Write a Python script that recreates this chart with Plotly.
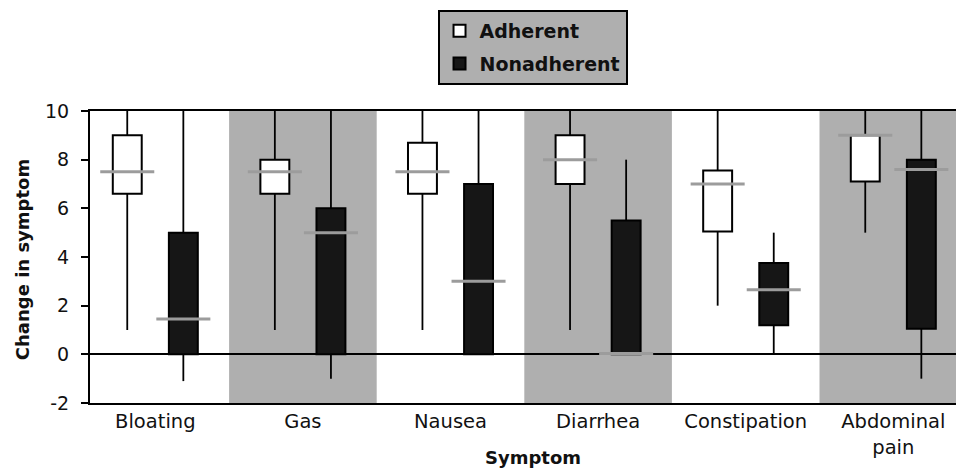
import plotly.graph_objects as go
import numpy as np

categories = ["Bloating", "Gas", "Nausea", "Diarrhea", "Constipation", "Abdominal<br>pain"]
shaded = [False, True, False, True, False, True]

adh_low = [1.0, 1.0, 1.0, 1.0, 2.0, 5.0]
adh_q1 = [6.6, 6.6, 6.6, 7.0, 5.05, 7.1]
adh_med = [7.5, 7.5, 7.5, 8.0, 7.0, 9.0]
adh_q3 = [9.0, 8.0, 8.7, 9.0, 7.55, 9.0]
adh_high = [10.0, 10.0, 10.0, 10.0, 10.0, 10.0]

non_low = [-1.1, -1.0, 0.0, 0.0, 0.0, -1.0]
non_q1 = [0.0, 0.0, 0.0, 0.0, 1.2, 1.05]
non_med = [1.45, 5.0, 3.0, 0.03, 2.65, 7.6]
non_q3 = [5.0, 6.0, 7.0, 5.5, 3.75, 8.0]
non_high = [10.0, 10.0, 10.0, 8.0, 5.0, 10.0]

y_ticks = [-2, 0, 2, 4, 6, 8, 10]
y_ticktext = ["-2", "0", "2", "4", "6", "8", "10"]

idx = np.arange(len(categories))
OFF = 0.19
BOXW = 0.196
MEDW = 0.183
GRAY = "#afafaf"
FONT = "DejaVu Sans"

fig = go.Figure()

def segs(xs, y0s, y1s):
    X, Y = [], []
    for x, a, b in zip(xs, y0s, y1s):
        X += [x, x, None]
        Y += [a, b, None]
    return X, Y

def hsegs(xs, ys, half):
    X, Y = [], []
    for x, y in zip(xs, ys):
        X += [x - half, x + half, None]
        Y += [y, y, None]
    return X, Y

xa = idx - OFF
xn = idx + OFF
xs_all = list(xa) + list(xn)

# whiskers (lower: low -> q1, upper: q3 -> high)
lx, ly = segs(xs_all, adh_low + non_low, adh_q1 + non_q1)
ux, uy = segs(xs_all, adh_q3 + non_q3, adh_high + non_high)
fig.add_trace(go.Scatter(x=lx + ux, y=ly + uy, mode="lines",
                         line=dict(color="black", width=1.8),
                         showlegend=False, hoverinfo="skip"))

# boxes
fig.add_trace(go.Bar(name="<b>Adherent</b>", legendgroup="a", x=xa, base=adh_q1,
                     y=[b - a for a, b in zip(adh_q1, adh_q3)], width=BOXW,
                     marker=dict(color="white", line=dict(color="black", width=2))))
fig.add_trace(go.Bar(name="<b>Nonadherent</b>", legendgroup="n", x=xn, base=non_q1,
                     y=[b - a for a, b in zip(non_q1, non_q3)], width=BOXW,
                     marker=dict(color="#161616", line=dict(color="black", width=2))))

# medians
mx, my = hsegs(xs_all, adh_med + non_med, MEDW)
fig.add_trace(go.Scatter(x=mx, y=my, mode="lines", line=dict(color="#9c9c9c", width=3),
                         showlegend=False, hoverinfo="skip"))

shapes = []
for i, s in zip(idx, shaded):
    if s:
        shapes.append(dict(type="rect", xref="x", yref="paper", x0=i - 0.5, x1=i + 0.5,
                           y0=0, y1=1, fillcolor=GRAY, line=dict(width=0), layer="below"))

fig.update_layout(
    width=956, height=468,
    margin=dict(l=90, r=0, t=111, b=65.3, autoexpand=False),
    plot_bgcolor="white", paper_bgcolor="white",
    barmode="overlay",
    shapes=shapes,
    font=dict(family=FONT, color="#111111"),
    legend=dict(x=0.511, xanchor="center", y=1.346, yanchor="top",
                bgcolor=GRAY, bordercolor="black", borderwidth=2,
                font=dict(family=FONT, size=19, color="#111111"),
                traceorder="grouped", tracegroupgap=5),
    annotations=[
        dict(text="<b>Change in symptom</b>", textangle=-90, xref="paper", yref="paper",
             x=(22 - 90) / 866, y=0.489, showarrow=False, xanchor="center", yanchor="middle",
             font=dict(family=FONT, size=18, color="#111111")),
        dict(text="<b>Symptom</b>", xref="paper", yref="paper",
             x=(533 - 90) / 866, y=(402.7 - 457) / 291.7, showarrow=False,
             xanchor="center", yanchor="middle",
             font=dict(family=FONT, size=18, color="#111111")),
    ],
)

fig.update_xaxes(range=[-0.4424, 5.4248], tickvals=idx, ticktext=categories,
                 showline=True, linecolor="black", linewidth=2, mirror=True,
                 showgrid=False, zeroline=False, ticks="", automargin=False,
                 tickfont=dict(family=FONT, size=19.5, color="#111111"))
fig.update_yaxes(range=[-2, 10], tickvals=y_ticks, ticktext=y_ticktext,
                 showline=True, linecolor="black", automargin=False,
                 linewidth=2, showgrid=False, zeroline=True, zerolinecolor="black",
                 zerolinewidth=2, ticks="outside", ticklen=7, tickwidth=1.5,
                 tickcolor="black", ticklabelstandoff=8,
                 tickfont=dict(family=FONT, size=19, color="#111111"))

fig.write_html("out.html",
               config={"displayModeBar": False},
               post_script="document.body.style.margin='0px';"
                           "document.body.style.overflow='hidden';")
